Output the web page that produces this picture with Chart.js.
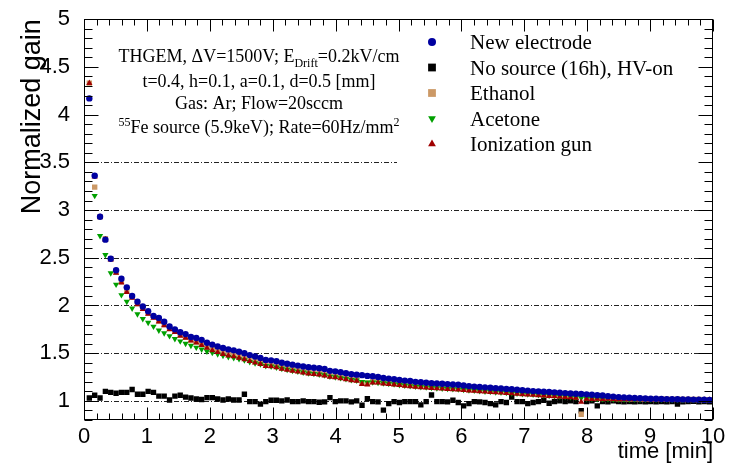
<!DOCTYPE html>
<html>
<head>
<meta charset="utf-8">
<script src="https://cdn.jsdelivr.net/npm/chart.js@4.4.1/dist/chart.umd.min.js"></script>
<style>
html, body { margin: 0; padding: 0; background: #fff; }
</style>
</head>
<body>
<canvas id="gainChart" width="731" height="463"></canvas>
<script>
// -----------------------------
// DATA
// -----------------------------
const STEP_MIN = 0.085;   // one reading every ~5 s

const newElectrode = [
    4.17, 3.36, 2.93, 2.69, 2.49, 2.37, 2.28, 2.19, 2.10, 2.04,
    1.99, 1.94, 1.89, 1.87, 1.83, 1.78, 1.75, 1.72, 1.70, 1.67,
    1.66, 1.64, 1.61, 1.59, 1.57, 1.555, 1.54, 1.53, 1.515, 1.50,
    1.48, 1.465, 1.45, 1.43, 1.425, 1.415, 1.40, 1.39, 1.38, 1.37,
    1.36, 1.352, 1.347, 1.342, 1.334, 1.315, 1.31, 1.30, 1.29, 1.28,
    1.275, 1.27, 1.262, 1.258, 1.25, 1.24, 1.234, 1.228, 1.22, 1.213,
    1.208, 1.20, 1.196, 1.19, 1.186, 1.183, 1.18, 1.176, 1.172, 1.17,
    1.162, 1.155, 1.15, 1.146, 1.142, 1.138, 1.134, 1.13, 1.126, 1.122,
    1.117, 1.112, 1.108, 1.103, 1.10, 1.096, 1.093, 1.09, 1.086, 1.082,
    1.078, 1.075, 1.072, 1.069, 1.065, 1.06, 1.056, 1.05, 1.045, 1.04,
    1.037, 1.034, 1.031, 1.028, 1.025, 1.023, 1.022, 1.02, 1.019, 1.018,
    1.017, 1.016, 1.015, 1.014, 1.013, 1.012, 1.011
];

const noSource = [
    1.03, 1.06, 1.03, 1.10, 1.09, 1.08, 1.09, 1.09, 1.12, 1.07,
    1.07, 1.10, 1.09, 1.05, 1.05, 1.01, 1.05, 1.06, 1.04, 1.03,
    1.02, 1.015, 1.035, 1.035, 1.02, 1.01, 1.02, 1.01, 1.01, 1.07,
    0.993, 0.993, 0.966, 0.993, 1.007, 1.007, 1.0, 1.01, 0.993, 0.993,
    1.0, 0.993, 0.993, 0.986, 0.99, 1.035, 0.993, 1.0, 1.0, 0.99,
    1.0, 0.955, 1.024, 0.993, 0.99, 0.904, 0.972, 0.993, 0.983, 0.993,
    0.993, 0.993, 0.959, 0.993, 1.062, 0.993, 0.993, 0.99, 1.007, 0.983,
    0.948, 0.972, 0.993, 0.99, 0.983, 0.972, 0.959, 0.993, 0.983, 1.041,
    0.993, 0.993, 0.972, 0.983, 0.993, 1.007, 0.975, 0.993, 1.0, 0.993,
    1.0, 0.993, 0.897, 0.993, 1.0, 0.948, 0.993, 0.99, 1.0, 0.993,
    0.99, 0.993, 0.99, 0.993, 0.99, 0.993, 0.99, 0.993, 0.99, 0.993,
    0.966, 0.99, 0.993, 0.995, 0.99, 0.993, 0.99
];

const ethanol = [
    4.33, 3.24, 2.93, 2.70, 2.49, 2.35, 2.25, 2.155, 2.09, 2.02,
    1.97, 1.92, 1.88, 1.84, 1.80, 1.76, 1.73, 1.695, 1.67, 1.64,
    1.62, 1.595, 1.57, 1.545, 1.525, 1.505, 1.49, 1.478, 1.463, 1.448,
    1.43, 1.413, 1.40, 1.38, 1.373, 1.362, 1.348, 1.338, 1.328, 1.318,
    1.308, 1.298, 1.293, 1.287, 1.277, 1.263, 1.257, 1.247, 1.237, 1.228,
    1.222, 1.19, 1.185, 1.202, 1.2, 1.192, 1.187, 1.182, 1.177, 1.17,
    1.164, 1.158, 1.154, 1.15, 1.146, 1.142, 1.139, 1.135, 1.132, 1.129,
    1.125, 1.12, 1.116, 1.112, 1.108, 1.104, 1.1, 1.097, 1.092, 1.089,
    1.085, 1.081, 1.077, 1.074, 1.07, 1.067, 1.062, 1.059, 1.055, 1.052,
    1.047, 1.042, 0.86, 1.032, 1.028, 1.028, 1.025, 1.026, 1.024, 1.022,
    1.023, 1.02, 1.021, 1.019, 1.02, 1.018, 1.019, 1.017, 1.018, 1.016,
    1.017, 1.015, 1.016, 1.015, 1.015, 1.014, 1.014
];

const acetone = [
    null, 3.15, 2.73, 2.53, 2.34, 2.22, 2.11, 2.04, 1.97, 1.91,
    1.86, 1.82, 1.78, 1.74, 1.71, 1.68, 1.65, 1.625, 1.60, 1.58,
    1.56, 1.54, 1.52, 1.505, 1.49, 1.475, 1.462, 1.452, 1.44, 1.428,
    1.41, 1.397, 1.385, 1.368, 1.362, 1.352, 1.338, 1.328, 1.318, 1.308,
    1.299, 1.29, 1.285, 1.279, 1.27, 1.256, 1.25, 1.24, 1.231, 1.221,
    1.216, 1.2, 1.195, 1.196, 1.192, 1.186, 1.181, 1.176, 1.169, 1.163,
    1.157, 1.151, 1.147, 1.143, 1.139, 1.135, 1.132, 1.128, 1.125, 1.122,
    1.118, 1.113, 1.109, 1.105, 1.101, 1.097, 1.093, 1.09, 1.086, 1.082,
    1.078, 1.074, 1.07, 1.067, 1.063, 1.06, 1.056, 1.052, 1.048, 1.045,
    1.04, 1.036, 1.03, 1.026, 1.024, 1.022, 1.02, 1.021, 1.019, 1.018,
    1.019, 1.017, 1.018, 1.016, 1.017, 1.015, 1.016, 1.015, 1.015, 1.014,
    1.015, 1.013, 1.014, 1.013, 1.013, 1.012, 1.012
];

const ionGun = [
    4.33, 3.35, 2.93, 2.69, 2.48, 2.34, 2.24, 2.14, 2.08, 2.01,
    1.96, 1.91, 1.87, 1.83, 1.79, 1.75, 1.72, 1.68, 1.66, 1.63,
    1.61, 1.585, 1.555, 1.53, 1.51, 1.49, 1.475, 1.465, 1.45, 1.435,
    1.415, 1.40, 1.385, 1.365, 1.36, 1.35, 1.335, 1.325, 1.315, 1.305,
    1.295, 1.285, 1.28, 1.275, 1.265, 1.25, 1.245, 1.235, 1.225, 1.215,
    1.21, 1.175, 1.17, 1.19, 1.19, 1.18, 1.175, 1.17, 1.165, 1.158,
    1.152, 1.146, 1.142, 1.138, 1.134, 1.13, 1.127, 1.123, 1.12, 1.117,
    1.113, 1.108, 1.104, 1.10, 1.096, 1.092, 1.088, 1.085, 1.08, 1.077,
    1.073, 1.069, 1.065, 1.062, 1.058, 1.055, 1.05, 1.047, 1.043, 1.04,
    1.035, 1.03, 0.99, 1.02, 1.018, 1.02, 1.017, 1.02, 1.018, 1.016,
    1.018, 1.015, 1.017, 1.015, 1.016, 1.014, 1.015, 1.013, 1.015, 1.013,
    1.014, 1.012, 1.013, 1.012, 1.012, 1.011, 1.011
];

const SERIES_NAMES = ["New electrode", "No source (16h), HV-on", "Ethanol", "Acetone", "Ionization gun"];
const X_TICKS = [0, 1, 2, 3, 4, 5, 6, 7, 8, 9, 10];
const Y_TICKS = [1, 1.5, 2, 2.5, 3, 3.5, 4, 4.5, 5];
const GRID_Y = [1, 1.5, 2, 2.5, 3, 3.5, 4, 4.5];

// info box text: [text, kind] kind 0 = normal, 1 = subscript, 2 = superscript
const INFO_LINES = [
    [["THGEM, \u0394V=1500V; E", 0], ["Drift", 1], ["=0.2kV/cm", 0]],
    [["t=0.4, h=0.1, a=0.1, d=0.5 [mm]", 0]],
    [["Gas: Ar; Flow=20sccm", 0]],
    [["55", 2], ["Fe source (5.9keV); Rate=60Hz/mm", 0], ["2", 2]]
];

const SANS = "'Liberation Sans', Arial, sans-serif";
const SERIF = "'Liberation Serif', 'Times New Roman', serif";

// -----------------------------
// HELPERS
// -----------------------------
function toPoints(values) {

    const pts = [];
    values.forEach((v, i) => {
        if (v !== null) pts.push({ x: (i + 1) * STEP_MIN, y: v });
    });
    return pts;
}

function drawRuns(ctx, runs, cx, baseline, size) {

    const small = Math.round(size * 0.68);
    const parts = runs.map(([text, kind]) => {
        const fs = kind === 0 ? size : small;
        ctx.font = `${fs}px ${SERIF}`;
        return { text, fs, dy: kind === 1 ? 5 : (kind === 2 ? -7 : 0), w: ctx.measureText(text).width };
    });
    const total = parts.reduce((s, p) => s + p.w, 0);
    let x = cx - total / 2;
    ctx.textAlign = "left";
    ctx.textBaseline = "alphabetic";
    parts.forEach(p => {
        ctx.font = `${p.fs}px ${SERIF}`;
        ctx.fillText(p.text, x, baseline + p.dy);
        x += p.w;
    });
}

// -----------------------------
// FRAME, GRID, TEXT PLUGIN
// -----------------------------
const rootStyle = {
    id: "rootStyle",

    beforeDatasetsDraw(chart) {

        const { ctx, chartArea: a, scales } = chart;
        ctx.save();
        ctx.strokeStyle = "#222";
        ctx.lineWidth = 1;
        ctx.setLineDash([5, 2, 1, 2]);
        GRID_Y.forEach(v => {
            const y = Math.round(scales.y.getPixelForValue(v)) + 0.5;
            ctx.beginPath();
            ctx.moveTo(a.left, y);
            ctx.lineTo(a.right, y);
            ctx.stroke();
        });
        ctx.setLineDash([]);

        // white panes of the info box and the legend
        ctx.fillStyle = "#fff";
        ctx.fillRect(a.left + 14, 24, 312, 128);
        ctx.fillRect(397, 20, a.right - 397, 146);
        ctx.restore();
    },

    afterDatasetsDraw(chart) {

        const { ctx, chartArea: a, scales } = chart;
        const L = Math.round(a.left) + 0.5, R = Math.round(a.right) - 0.5;
        const T = Math.round(a.top) + 0.5, B = Math.round(a.bottom) - 0.5;

        ctx.save();
        ctx.strokeStyle = "#000";
        ctx.lineWidth = 1;

        // ticks on all four sides
        ctx.beginPath();
        for (let k = 8; k <= 50; k++) {
            const y = Math.round(scales.y.getPixelForValue(k / 10)) + 0.5;
            const len = k % 5 === 0 ? 14 : 8;
            ctx.moveTo(L, y); ctx.lineTo(L + len, y);
            ctx.moveTo(R, y); ctx.lineTo(R - len, y);
        }
        for (let k = 0; k <= 50; k++) {
            const x = Math.round(scales.x.getPixelForValue(k / 5)) + 0.5;
            const len = k % 5 === 0 ? 12 : 6;
            ctx.moveTo(x, B); ctx.lineTo(x, B - len);
            ctx.moveTo(x, T); ctx.lineTo(x, T + len);
        }
        ctx.stroke();
        ctx.strokeRect(L, T, R - L, B - T);

        // axis titles
        ctx.fillStyle = "#000";
        ctx.font = `22px ${SANS}`;
        ctx.textAlign = "right";
        ctx.textBaseline = "alphabetic";
        ctx.fillText("time [min]", a.right, 458);

        ctx.save();
        ctx.translate(40, a.top);
        ctx.rotate(-Math.PI / 2);
        ctx.font = `27px ${SANS}`;
        ctx.textAlign = "right";
        ctx.fillText("Normalized gain", 0, 0);
        ctx.restore();

        // info text
        const baselines = [62, 87, 109, 133];
        INFO_LINES.forEach((runs, i) => drawRuns(ctx, runs, 259, baselines[i], 18));

        // legend
        chart.data.datasets.forEach((ds, i) => {
            const cy = 42 + i * 25.5;
            ctx.fillStyle = ds.backgroundColor;
            Chart.helpers.drawPoint(ctx, {
                pointStyle: ds.pointStyle,
                rotation: ds.pointRotation || 0,
                radius: ds.legendRadius,
                borderWidth: 0
            }, 432, cy);
            ctx.fillStyle = "#000";
            ctx.font = `21px ${SERIF}`;
            ctx.textAlign = "left";
            ctx.textBaseline = "alphabetic";
            ctx.fillText(ds.label, 470, cy + 7);
        });

        ctx.restore();
    }
};

// -----------------------------
// CHART
// -----------------------------
function makeSet(i, values, style, color, radius, legendRadius, order, rotation) {

    return {
        label: SERIES_NAMES[i],
        data: toPoints(values),
        pointStyle: style,
        pointRotation: rotation || 0,
        pointRadius: radius,
        pointBorderWidth: 0,
        backgroundColor: color,
        borderColor: color,
        legendRadius: legendRadius,
        order: order,
        showLine: false
    };
}

const datasets = [
    makeSet(0, newElectrode, "circle", "#0000a0", 3.2, 4, 0),
    makeSet(1, noSource, "rect", "#000000", 3.8, 5.5, 4),
    makeSet(2, ethanol, "rect", "#cc9966", 3.8, 5.5, 3),
    makeSet(3, acetone, "triangle", "#00a000", 3.6, 4.5, 2, 180),
    makeSet(4, ionGun, "triangle", "#a00000", 3.6, 4.5, 1)
];

new Chart(document.getElementById("gainChart"), {
    type: "scatter",
    data: { datasets },
    options: {
        responsive: false,
        animation: false,
        layout: { padding: { top: 14, right: 18, left: 0, bottom: 0 } },
        plugins: { legend: { display: false }, tooltip: { enabled: false } },
        scales: {
            x: {
                type: "linear",
                min: 0,
                max: 10,
                afterBuildTicks: s => { s.ticks = X_TICKS.map(v => ({ value: v })); },
                afterFit: s => { s.height = 43; },
                grid: { display: false },
                border: { display: false },
                ticks: {
                    color: "#000",
                    font: { family: SANS, size: 22 },
                    padding: -4,
                    maxRotation: 0,
                    autoSkip: false,
                    callback: v => String(v)
                }
            },
            y: {
                type: "linear",
                min: 0.8,
                max: 5,
                afterBuildTicks: s => { s.ticks = Y_TICKS.map(v => ({ value: v })); },
                afterFit: s => { s.width = 84; },
                grid: { display: false },
                border: { display: false },
                ticks: {
                    color: "#000",
                    font: { family: SANS, size: 22 },
                    padding: 6,
                    autoSkip: false,
                    callback: v => String(v)
                }
            }
        }
    },
    plugins: [rootStyle]
});
</script>
</body>
</html>
